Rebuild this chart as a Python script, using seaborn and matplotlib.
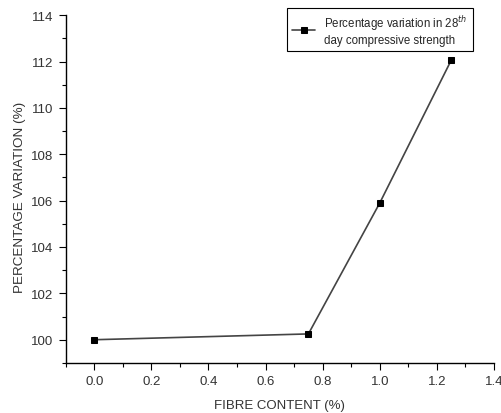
import matplotlib
matplotlib.use("Agg")
import matplotlib.pyplot as plt
from matplotlib.ticker import MultipleLocator, FormatStrFormatter
import seaborn as sns
import pandas as pd

fibre_content = [0.0, 0.75, 1.0, 1.25]
percentage_variation = [100.0, 100.25, 105.9, 112.05]
series_label = "Percentage variation in 28$^{th}$\nday compressive strength"

sns.set_style("ticks")
plt.rcParams['font.family'] = ['Liberation Sans', 'DejaVu Sans']

df = pd.DataFrame({"x": fibre_content, "y": percentage_variation})

fig = plt.figure(figsize=(5.02, 4.14), dpi=100)
ax = fig.add_axes([0.131, 0.121, 0.853, 0.840])
sns.lineplot(data=df, x="x", y="y", ax=ax, color="#444444", linewidth=1.2,
             marker="s", markersize=5, markerfacecolor="black",
             markeredgecolor="black", label=series_label)

ax.set_xlim(-0.1, 1.4)
ax.set_ylim(99, 114)
ax.xaxis.set_major_locator(MultipleLocator(0.2))
ax.xaxis.set_minor_locator(MultipleLocator(0.1))
ax.yaxis.set_major_locator(MultipleLocator(2))
ax.yaxis.set_minor_locator(MultipleLocator(1))
ax.xaxis.set_major_formatter(FormatStrFormatter('%.1f'))
ax.yaxis.set_major_formatter(FormatStrFormatter('%d'))
ax.tick_params(which='major', direction='out', length=5, width=0.8, labelsize=9.5,
               colors='black', labelcolor='#333333', pad=4)
ax.tick_params(which='minor', direction='out', length=3, width=0.8, colors='black')
for s in ['top', 'right']:
    ax.spines[s].set_visible(False)
for s in ['left', 'bottom']:
    ax.spines[s].set_linewidth(1.0)
    ax.spines[s].set_color('black')

ax.set_xlabel("FIBRE CONTENT (%)", fontsize=9.5, color='#333333', labelpad=8)
ax.set_ylabel("PERCENTAGE VARIATION (%)", fontsize=9.7, color='#333333', labelpad=1)
ax.yaxis.set_label_coords(-0.093, 0.48)

leg = ax.legend(loc='upper left', bbox_to_anchor=(287 / 502, 1 - 9 / 414),
                bbox_transform=fig.transFigure, borderaxespad=0, fontsize=8.3,
                frameon=True, fancybox=False, edgecolor='black', framealpha=1,
                handlelength=2.0, borderpad=0.45)
leg.get_frame().set_linewidth(0.8)

fig.savefig("out.png", dpi=100)
